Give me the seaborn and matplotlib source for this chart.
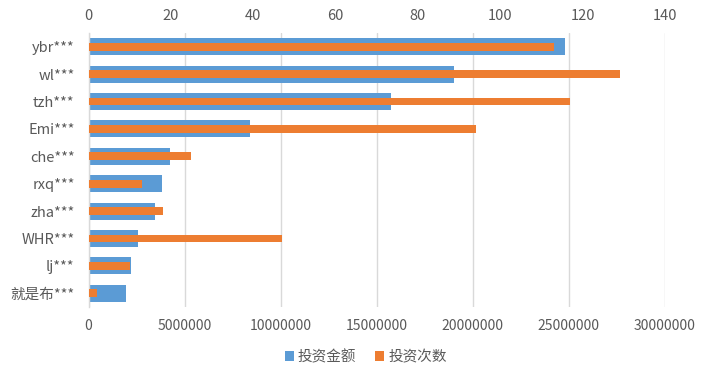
import matplotlib
matplotlib.use("Agg")
import matplotlib.pyplot as plt
from matplotlib.patches import Patch
import seaborn as sns
import pandas as pd

names = ["ybr***", "wl***", "tzh***", "Emi***", "che***", "rxq***", "zha***", "WHR***", "lj***", "就是布***"]
amount = [24820000, 19040000, 15760000, 8410000, 4240000, 3830000, 3460000, 2580000, 2210000, 1950000]
count = [113, 129, 117, 94, 25, 13, 18, 47, 10, 2]
bottom_ticks = [0, 5000000, 10000000, 15000000, 20000000, 25000000, 30000000]
top_ticks = [0, 20, 40, 60, 80, 100, 120, 140]
legend_labels = ["投资金额", "投资次数"]

BLUE = "#5B9BD5"
ORANGE = "#ED7D31"
TEXT = "#595959"
GRID = "#D9D9D9"

sns.set_theme(style="white")
plt.rcParams["font.family"] = ["Noto Sans CJK SC", "DejaVu Sans"]

df = pd.DataFrame({"name": names, "amount": amount, "count": count})

fig = plt.figure(figsize=(7.14, 3.76), dpi=100)
ax = fig.add_axes([88.5 / 714, 1 - 307 / 376, (665 - 88.5) / 714, (307 - 33) / 376])

sns.barplot(data=df, x="amount", y="name", ax=ax, color=BLUE, width=0.62,
            saturation=1, orient="h", linewidth=0, edgecolor="none")
ax.set_xlim(0, 30000000)
ax.set_xticks(bottom_ticks)
ax.set_xticklabels([str(t) for t in bottom_ticks])
ax.grid(axis="x", color=GRID, linewidth=1)
ax.set_axisbelow(True)
ax.set_xlabel("")
ax.set_ylabel("")

ax2 = ax.twiny()
sns.barplot(data=df, x="count", y="name", ax=ax2, color=ORANGE, width=0.28,
            saturation=1, orient="h", linewidth=0, edgecolor="none")
ax2.set_xlim(0, 140)
ax2.set_xticks(top_ticks)
ax2.set_xticklabels([str(t) for t in top_ticks])
ax2.set_xlabel("")
ax2.set_ylabel("")
ax2.grid(False)

for a in (ax, ax2):
    for s in a.spines.values():
        s.set_visible(False)
ax.spines["left"].set_visible(True)
ax.spines["left"].set_color(GRID)
ax.spines["left"].set_linewidth(1)

ax.tick_params(axis="x", length=0, pad=9, labelsize=10, colors=TEXT)
ax.tick_params(axis="y", length=0, pad=10, labelsize=10.5, colors=TEXT)
ax2.tick_params(axis="x", length=0, pad=7, labelsize=10.5, colors=TEXT)
ax2.tick_params(axis="y", length=0, left=False, labelleft=False)
ax2.xaxis.set_ticks_position("top")
ax2.xaxis.set_label_position("top")

handles = [Patch(facecolor=BLUE, edgecolor="none"), Patch(facecolor=ORANGE, edgecolor="none")]
fig.legend(handles, legend_labels, loc="center", bbox_to_anchor=(366 / 714, 1 - 357 / 376),
           ncol=2, frameon=False, handlelength=0.6, handleheight=0.6, handletextpad=0.3,
           columnspacing=1.3, fontsize=10.5, labelcolor=TEXT)

fig.savefig("out.png", dpi=100)
